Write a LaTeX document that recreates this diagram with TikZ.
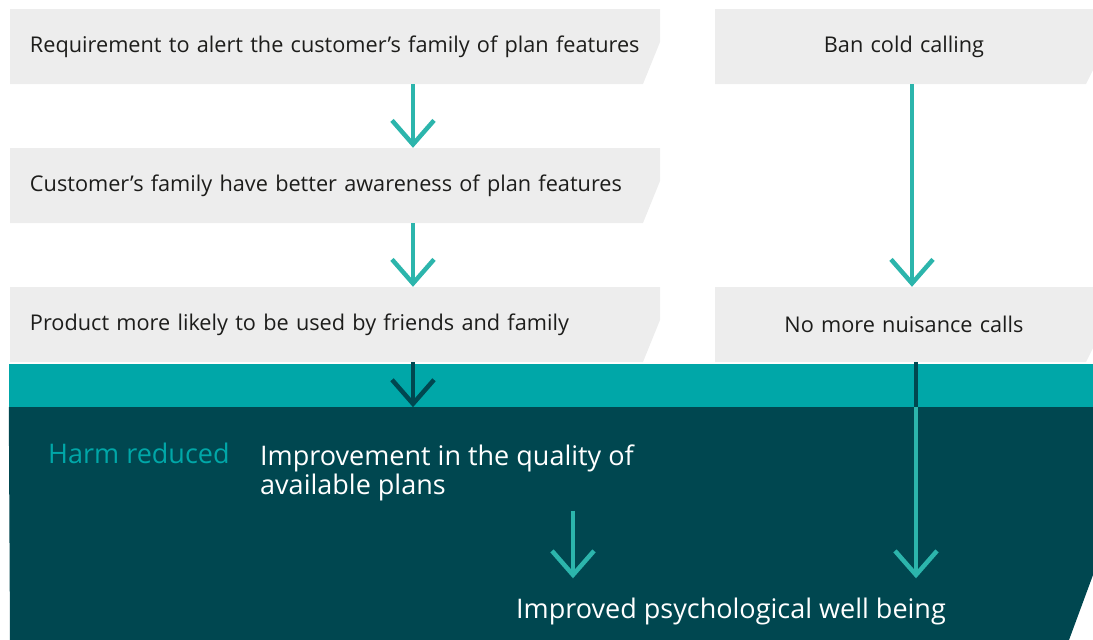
\documentclass[tikz,border=0pt]{standalone}
\usepackage{fontspec}
\setmainfont{Open Sans}
\usetikzlibrary{arrows.meta}
\definecolor{boxgrey}{HTML}{EDEDED}
\definecolor{bandteal}{HTML}{00A7A8}
\definecolor{darkteal}{HTML}{004750}
\definecolor{arrowteal}{HTML}{2CB5AC}
\definecolor{inktext}{HTML}{1D1D1B}

\tikzset{
  cutbox/.style 2 args={inner ysep=0pt, inner xsep=22pt, minimum height=75pt,
    font=\fontsize{21.7}{25}\selectfont, text=inktext,
    path picture={\fill[boxgrey] (path picture bounding box.north west) -- (path picture bounding box.north east)
      -- ([yshift=#1]path picture bounding box.south east) -- ([xshift=-#2]path picture bounding box.south east)
      -- (path picture bounding box.south west) -- cycle;}},
  leftbox/.style={cutbox={42pt}{17pt}, inner xsep=20pt, text width=610pt, align=left},
  rightbox/.style={cutbox={14pt}{7pt}, text width=334pt, align=center},
  harmtext/.style={inner sep=0pt, font=\fontsize{27}{29}\selectfont, text=white, align=left},
  flow/.style={draw=arrowteal, line width=4.5pt, -{Straight Barb[length=24pt,width=42pt]}}
}

\begin{document}
\begin{tikzpicture}[x=1pt,y=-1pt]
\useasboundingbox (0,0) rectangle (1093,640);
\node[leftbox] (alert) at (335,46.5) {Requirement to alert the customer’s family of plan features};
\node[leftbox] (aware) at (335,185.5) {Customer’s family have better awareness of plan features};
\node[leftbox] (likely) at (335,324.5) {Product more likely to be used by friends and family};
\node[rightbox] (ban) at (904,46.5) {Ban cold calling};
\node[rightbox] (nuisance) at (904,324.5) {No more nuisance calls};
\node[fill=bandteal, inner sep=0pt, minimum width=1084pt, minimum height=43pt] (band) at (551,385.5) {};
\fill[darkteal] (band.south west) -- (band.south east) -- (1093,575) -- (1069,640) -- (10,640) -- cycle;
\node[harmtext, text=bandteal, anchor=base west] (harm) at (48,463) {Harm reduced};
\node[harmtext, anchor=north west] (quality) at (260,445) {Improvement in the quality of\\available plans};
\node[harmtext, anchor=base west] (wellbeing) at (516,618) {Improved psychological well being};
\coordinate (lcol) at (413,0);
\coordinate (mcol) at (573,0);
\coordinate (rcol) at (912,0);
\coordinate (rcoldown) at (916,0);
\draw[flow] (alert.south -| lcol) -- (aware.north -| lcol);
\draw[flow] (aware.south -| lcol) -- (likely.north -| lcol);
\draw[flow, draw=darkteal] (likely.south -| lcol) -- (band.south -| lcol);
\draw[flow] (ban.south -| rcol) -- (nuisance.north -| rcol);
\draw[line width=4.5pt, darkteal] (nuisance.south -| rcoldown) -- (band.south -| rcoldown);
\draw[flow, shorten >=19pt] (band.south -| rcoldown) -- (wellbeing.north -| rcoldown);
\draw[flow, shorten <=9pt, shorten >=19pt] (quality.south -| mcol) -- (wellbeing.north -| mcol);
\end{tikzpicture}
\end{document}
